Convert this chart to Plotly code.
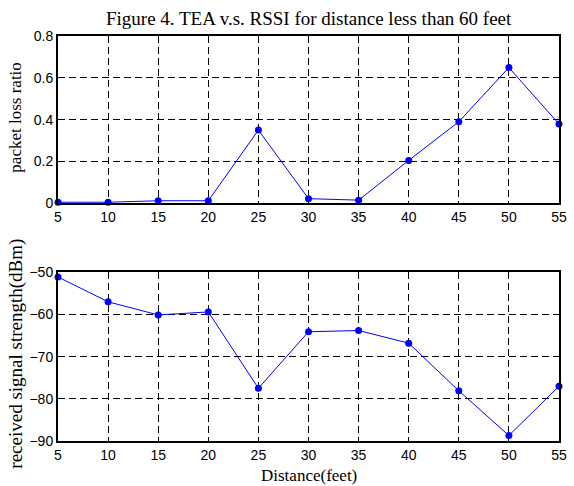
import plotly.graph_objects as go
from plotly.subplots import make_subplots

distance = [5, 10, 15, 20, 25, 30, 35, 40, 45, 50, 55]
packet_loss = [0.005, 0.005, 0.012, 0.012, 0.35, 0.022, 0.015, 0.205, 0.39, 0.649, 0.379]
rssi = [-51.1, -57.0, -60.1, -59.4, -77.5, -64.1, -63.8, -66.8, -78.1, -88.7, -77.0]

title_text = "Figure 4. TEA v.s. RSSI for distance less than 60 feet"
ylabel_top = "packet loss ratio"
ylabel_bottom = "received signal strength(dBm)"
xlabel = "Distance(feet)"

fig = make_subplots(rows=2, cols=1)

line_style = dict(color="#0000ff", width=1)
marker_style = dict(color="#0000ff", size=7)

fig.add_trace(go.Scatter(x=distance, y=packet_loss, mode="lines+markers",
                         line=line_style, marker=marker_style, cliponaxis=False,
                         showlegend=False), row=1, col=1)
fig.add_trace(go.Scatter(x=distance, y=rssi, mode="lines+markers",
                         line=line_style, marker=marker_style, cliponaxis=False,
                         showlegend=False), row=2, col=1)

axis_common = dict(showline=True, linecolor="black", linewidth=2, mirror=True,
                   showgrid=True, gridcolor="black", gridwidth=1, griddash="7px,4px",
                   zeroline=False, ticks="",
                   tickfont=dict(family="Liberation Sans, Arial", size=14, color="black"))

fig.update_xaxes(range=[5, 55], dtick=5, tick0=5, **axis_common)
fig.update_xaxes(domain=[0, 1])
fig.update_yaxes(**axis_common)
fig.update_yaxes(range=[0, 0.8], dtick=0.2, tickformat=".1~f", domain=[0.587, 1.0], row=1, col=1)
fig.update_yaxes(range=[-90, -50], dtick=10, domain=[0.0, 0.4165], row=2, col=1)

serif_family = "Liberation Serif, Times New Roman"

fig.update_layout(
    width=574, height=486,
    margin=dict(l=58, r=7, t=36, b=45),
    paper_bgcolor="white", plot_bgcolor="white",
    annotations=[
        dict(text=title_text, x=0.5, y=1, xref="paper", yref="paper",
             xanchor="center", yanchor="bottom", yshift=5, showarrow=False,
             font=dict(family=serif_family, size=19, color="black")),
        dict(text=ylabel_top, x=0, y=(0.587 + 1.0) / 2, xref="paper", yref="paper",
             xanchor="center", yanchor="middle", xshift=-42, yshift=2, textangle=-90,
             showarrow=False, font=dict(family=serif_family, size=17, color="black")),
        dict(text=ylabel_bottom, x=0, y=0.4165 / 2, xref="paper", yref="paper",
             xanchor="center", yanchor="middle", xshift=-42, yshift=3, textangle=-90,
             showarrow=False, font=dict(family=serif_family, size=19, color="black")),
        dict(text=xlabel, x=0.5, y=0, xref="paper", yref="paper",
             xanchor="center", yanchor="top", yshift=-23, showarrow=False,
             font=dict(family=serif_family, size=17, color="black")),
    ],
)

fig.write_html("out.html")
